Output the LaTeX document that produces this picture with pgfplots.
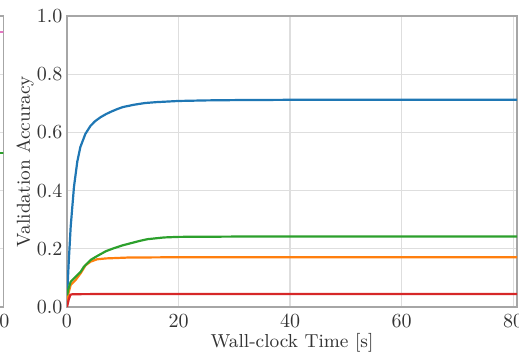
\documentclass[border=0pt]{standalone}
\usepackage{pgfplots}
\pgfplotsset{compat=1.18}
\definecolor{tabblue}{RGB}{31,119,180}
\definecolor{taborange}{RGB}{255,127,14}
\definecolor{tabgreen}{RGB}{44,160,44}
\definecolor{tabred}{RGB}{214,39,40}
\definecolor{tabpink}{RGB}{227,119,194}
\pgfplotsset{
  myax/.style={
    scale only axis, width=225pt, height=145.5pt,
    xmin=0, xmax=80.7, ymin=0, ymax=1,
    xtick={0,20,40,60,80}, ytick={0,0.2,0.4,0.6,0.8,1.0},
    yticklabels={0.0,0.2,0.4,0.6,0.8,1.0},
    major tick length=0pt,
    grid=major, grid style={black!13, line width=0.6pt},
    axis line style={black!35, line width=0.7pt},
    tick label style={font=\fontsize{10}{12}\selectfont, text=black!80},
    xticklabel style={yshift=-0.5pt},
    yticklabel style={xshift=1.2pt},
    label style={font=\fontsize{9.4}{11}\selectfont, text=black!80},
    every axis plot/.append style={line width=1.1pt, no markers, line join=round},
  }
}
\begin{document}
\begin{tikzpicture}
\useasboundingbox (0,0) rectangle (259.5pt,177.5pt);
\clip (0,0) rectangle (259.5pt,177.5pt);
% neighbouring panel (only its right edge is visible)
\begin{axis}[myax, at={(1.65pt,24pt)}, anchor=south east]
\addplot[tabpink] coordinates {(50,0.946) (81,0.946)};
\addplot[tabgreen] coordinates {(50,0.529) (81,0.529)};
\end{axis}
% main panel
\begin{axis}[myax, at={(33.5pt,24pt)}, anchor=south west,
  xlabel={Wall-clock Time [s]}, ylabel={Validation Accuracy},
  xlabel style={at={(axis description cs:0.5,-0.124)}, anchor=center},
  ylabel style={at={(axis description cs:-0.093,0.5)}, anchor=center},
]
\addplot[tabblue] coordinates {
(0,0.03) (0.3,0.15) (0.66,0.276) (1.25,0.413) (1.85,0.50) (2.4,0.55)
(3.3,0.595) (4.2,0.622) (5,0.638) (6,0.652) (7,0.663) (8,0.672)
(9,0.68) (10,0.687) (12,0.695) (14,0.701) (16,0.704) (18,0.706)
(20,0.708) (25,0.710) (30,0.711) (40,0.712) (81,0.712)};
\addplot[taborange] coordinates {
(0,0.02) (0.3,0.05) (0.66,0.076) (1.55,0.093) (2.45,0.116) (3.35,0.144)
(4.25,0.156) (5.4,0.164) (7,0.167) (8.4,0.168) (11,0.170) (20,0.171) (81,0.171)};
\addplot[tabgreen] coordinates {
(0,0.04) (0.3,0.065) (0.66,0.087) (1.55,0.104) (2.45,0.121) (3.05,0.139)
(4.25,0.162) (5.4,0.175) (7,0.192) (8.4,0.202) (10,0.212) (11.4,0.219)
(13,0.227) (14.4,0.233) (17.4,0.239) (20,0.241) (30,0.242) (81,0.242)};
\addplot[tabred] coordinates {
(0,0.0) (0.3,0.025) (0.6,0.042) (1,0.044) (10,0.045) (81,0.045)};
\end{axis}
\end{tikzpicture}
\end{document}
